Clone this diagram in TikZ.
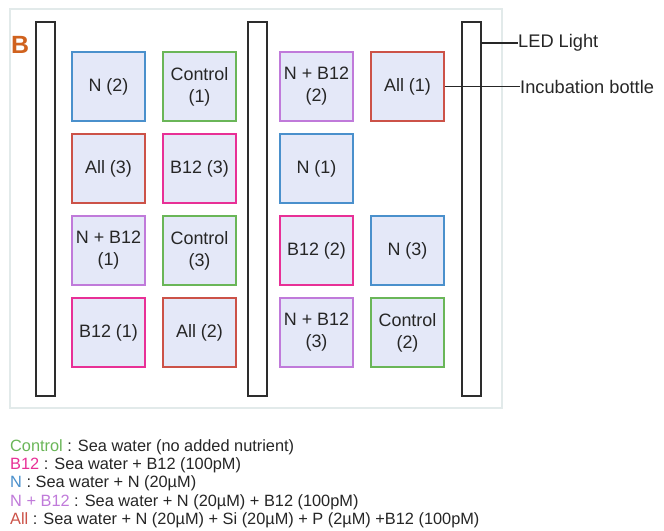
\documentclass[tikz,border=0pt]{standalone}
\usepackage{fontspec}
\setmainfont{Liberation Sans}
\definecolor{cblue}{RGB}{74,144,204}
\definecolor{cgreen}{RGB}{106,182,88}
\definecolor{cmag}{RGB}{232,48,150}
\definecolor{cpur}{RGB}{192,122,218}
\definecolor{cred}{RGB}{204,82,72}
\definecolor{cfill}{RGB}{228,232,248}
\definecolor{cpanel}{RGB}{226,234,234}
\definecolor{corange}{RGB}{208,98,30}
\definecolor{cbar}{RGB}{45,45,45}
\tikzset{
  bottle/.style={draw=#1, line width=1.6bp, fill=cfill, minimum width=73bp, minimum height=69bp,
    inner sep=0pt, align=center, font=\fontsize{18}{22}\selectfont, text=black!85},
  ledbar/.style={draw=cbar, line width=1.8bp, fill=white},
  callout/.style={draw=black!85, line width=1.2bp},
  calltext/.style={anchor=west, inner sep=0pt, font=\fontsize{18.3}{20}\selectfont, text=black!85},
  legend/.style={anchor=west, inner sep=0pt, font=\fontsize{16.4}{18}\selectfont, text=black!85}
}
\begin{document}
\begin{tikzpicture}[x=1bp,y=-1bp]
\useasboundingbox (0,0) rectangle (664,531);
\fill[white] (0,0) rectangle (664,531);
\draw[cpanel, line width=1.2bp] (10,9) rectangle (502,408);
% LED bars
\draw[ledbar] (36,22) rectangle (55,396);
\draw[ledbar] (248,22) rectangle (267,396);
\draw[ledbar] (462,22) rectangle (481,396);
\coordinate (ledR) at (481,43);
% label B
\node[anchor=west, inner sep=0pt, text=corange, font=\fontsize{25}{28}\selectfont\bfseries] (B) at (11,45) {B};
% bottles
\node[bottle=cblue]  (n2)   at (108.5,86.5)  {N (2)};
\node[bottle=cgreen] (c1)   at (199.5,86.5)  {Control\\(1)};
\node[bottle=cpur]   (nb2)  at (316.5,86.5)  {N + B12\\(2)};
\node[bottle=cred]   (a1)   at (407.5,86.5)  {All (1)};
\node[bottle=cred]   (a3)   at (108.5,168.5) {All (3)};
\node[bottle=cmag]   (b3)   at (199.5,168.5) {B12 (3)};
\node[bottle=cblue]  (n1)   at (316.5,168.5) {N (1)};
\node[bottle=cpur]   (nb1)  at (108.5,250.5) {N + B12\\(1)};
\node[bottle=cgreen] (c3)   at (199.5,250.5) {Control\\(3)};
\node[bottle=cmag]   (b2)   at (316.5,250.5) {B12 (2)};
\node[bottle=cblue]  (n3)   at (407.5,250.5) {N (3)};
\node[bottle=cmag]   (b1)   at (108.5,332.5) {B12 (1)};
\node[bottle=cred]   (a2)   at (199.5,332.5) {All (2)};
\node[bottle=cpur]   (nb3)  at (316.5,332.5) {N + B12\\(3)};
\node[bottle=cgreen] (c2)   at (407.5,332.5) {Control\\(2)};
% callouts
\node[calltext] (led) at (518,43) {LED Light};
\node[calltext] (inc) at (520,86.5) {Incubation bottle};
\draw[callout] (ledR) -- (led.west);
\draw[callout] (a1.east) -- (inc.west);
% legend
\node[legend] (l1) at (10,447) {\textcolor{cgreen}{Control} : Sea water (no added nutrient)};
\node[legend] (l2) at (10,465.3) {\textcolor{cmag}{B12} : Sea water + B12 (100pM)};
\node[legend] (l3) at (10,483.6) {\textcolor{cblue}{N} : Sea water + N (20µM)};
\node[legend] (l4) at (10,501.9) {\textcolor{cpur}{N + B12} : Sea water + N (20µM) + B12 (100pM)};
\node[legend] (l5) at (10,520.2) {\textcolor{cred}{All} : Sea water + N (20µM) + Si (20µM) + P (2µM) +B12 (100pM)};
\end{tikzpicture}
\end{document}
